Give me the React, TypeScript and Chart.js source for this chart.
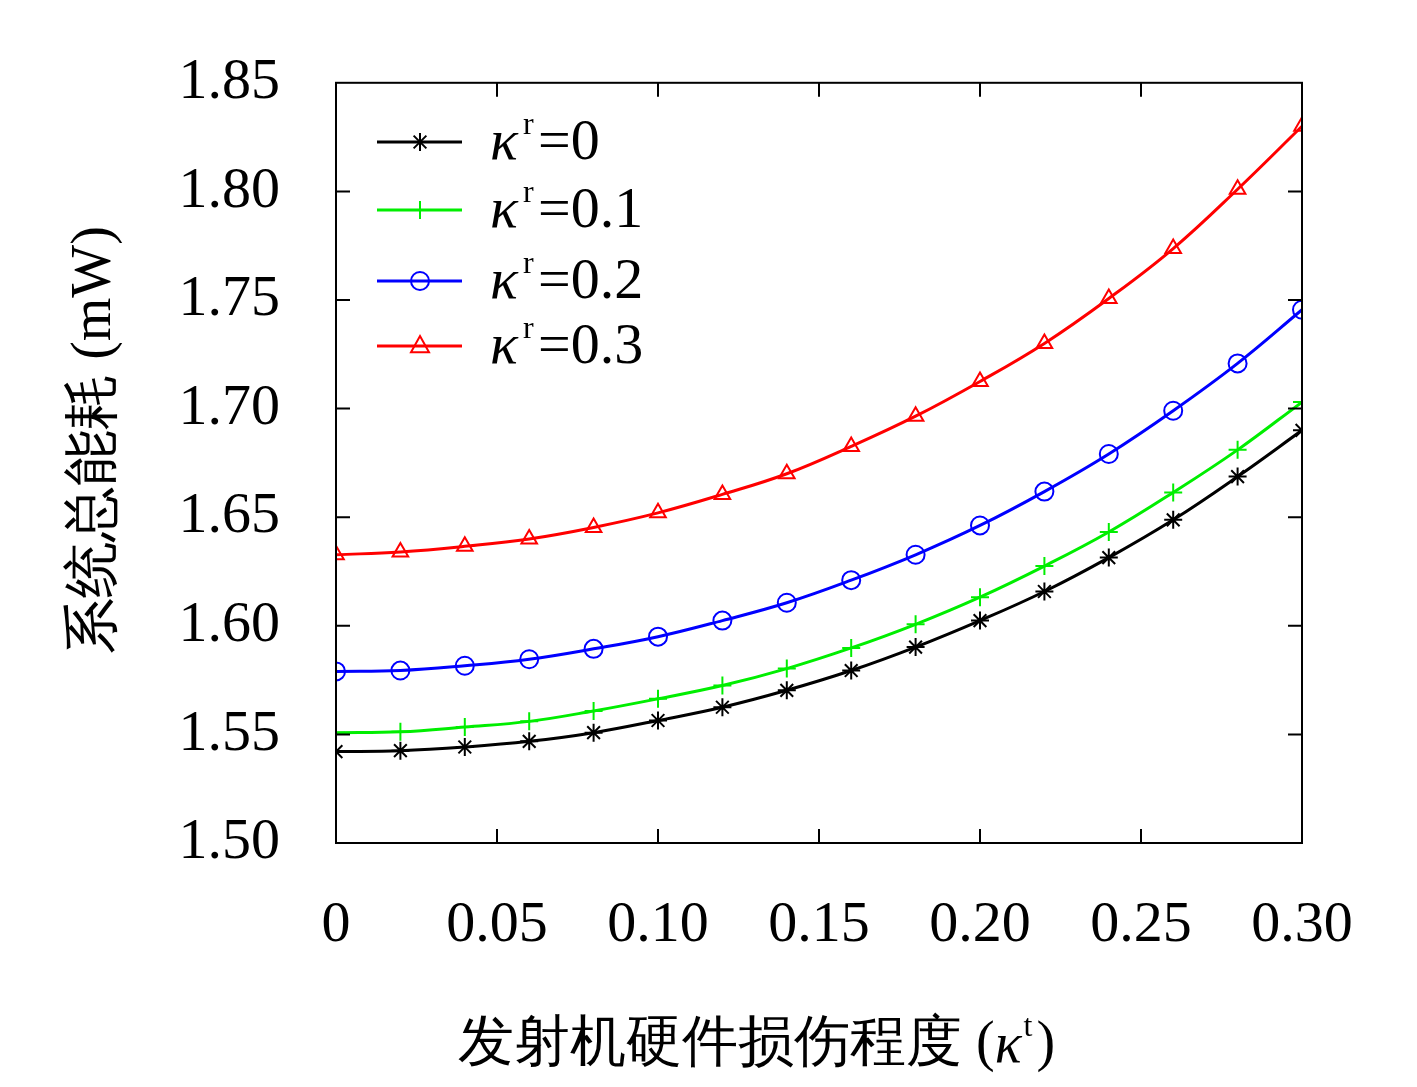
import React, { useEffect, useRef } from "react";
import { Chart, registerables } from "chart.js";
Chart.register(...registerables);

const kt = [0, 0.02, 0.04, 0.06, 0.08, 0.1, 0.12, 0.14, 0.16, 0.18, 0.2, 0.22, 0.24, 0.26, 0.28, 0.3];
const s0 = [1.5421, 1.5425, 1.5442, 1.5468, 1.5508, 1.5564, 1.5625, 1.5703, 1.5794, 1.5902, 1.6024, 1.6158, 1.6314, 1.6488, 1.6687, 1.69];
const s1 = [1.5508, 1.5512, 1.5534, 1.556, 1.5608, 1.5664, 1.5725, 1.5803, 1.5898, 1.6007, 1.6132, 1.6275, 1.6432, 1.6614, 1.681, 1.703];
const s2 = [1.579, 1.5794, 1.5816, 1.5846, 1.5894, 1.595, 1.6024, 1.6106, 1.621, 1.6327, 1.6462, 1.6618, 1.6791, 1.699, 1.7208, 1.7455];
const s3 = [1.6327, 1.634, 1.6366, 1.64, 1.6453, 1.652, 1.6605, 1.67, 1.6826, 1.6965, 1.7125, 1.73, 1.7507, 1.7737, 1.801, 1.83];
const labels = ["0", "0.1", "0.2", "0.3"];
const colors = ["#000000", "#00ee00", "#0000ff", "#ff0000"];
const styles = ["star", "cross", "circle", "triangle"];
const FONT = "'Liberation Serif', 'DejaVu Serif', serif";

function drawPt(ctx: any, st: string, x: number, y: number, r: number) {
  ctx.beginPath();
  if (st === "circle") { ctx.arc(x, y, r, 0, Math.PI * 2); }
  else if (st === "triangle") {
    ctx.moveTo(x, y - r * 1.1); ctx.lineTo(x + r, y + r * 0.7); ctx.lineTo(x - r, y + r * 0.7); ctx.closePath();
  } else if (st === "cross") {
    ctx.moveTo(x - r, y); ctx.lineTo(x + r, y); ctx.moveTo(x, y - r); ctx.lineTo(x, y + r);
  } else {
    for (let k = 0; k < 4; k++) {
      const an = (k * Math.PI) / 4;
      ctx.moveTo(x - r * Math.cos(an), y - r * Math.sin(an)); ctx.lineTo(x + r * Math.cos(an), y + r * Math.sin(an));
    }
  }
  ctx.stroke();
}

export default function App() {
  const ref = useRef<HTMLCanvasElement>(null);
  useEffect(() => {
    document.body.style.margin = "0";
    const series = [s0, s1, s2, s3];
    const deco = {
      id: "deco",
      afterDraw(c: any) {
        const ctx = c.ctx;
        const a = c.chartArea;
        const xs = c.scales.x, ys = c.scales.y;
        ctx.save();
        ctx.strokeStyle = "#000";
        ctx.lineWidth = 2;
        ctx.strokeRect(a.left, a.top, a.right - a.left, a.bottom - a.top);
        ctx.beginPath();
        for (let v = 0.05; v < 0.3; v += 0.05) {
          const x = xs.getPixelForValue(v);
          ctx.moveTo(x, a.bottom); ctx.lineTo(x, a.bottom - 14);
          ctx.moveTo(x, a.top); ctx.lineTo(x, a.top + 14);
        }
        for (let i = 1; i < 7; i++) {
          const y = ys.getPixelForValue(1.5 + i * 0.05);
          ctx.moveTo(a.left, y); ctx.lineTo(a.left + 14, y);
          ctx.moveTo(a.right, y); ctx.lineTo(a.right - 14, y);
        }
        ctx.stroke();
        const ly = [142, 210, 281, 346];
        ctx.textBaseline = "middle";
        ctx.textAlign = "left";
        for (let i = 0; i < 4; i++) {
          ctx.strokeStyle = colors[i];
          ctx.lineWidth = 3;
          ctx.beginPath(); ctx.moveTo(377, ly[i]); ctx.lineTo(462, ly[i]); ctx.stroke();
          ctx.lineWidth = 2;
          drawPt(ctx, styles[i], 420, ly[i], 9);
          ctx.fillStyle = "#000";
          ctx.font = `italic 58px ${FONT}`;
          ctx.fillText("κ", 490, ly[i] + 2);
          ctx.font = `32px ${FONT}`;
          ctx.fillText("r", 523, ly[i] - 16);
          ctx.font = `58px ${FONT}`;
          ctx.fillText("=" + labels[i], 538, ly[i] + 2);
        }
        ctx.fillStyle = "#000";
        ctx.textAlign = "left";
        ctx.font = `56px ${FONT}`;
        let x = 458;
        const t1 = "发射机硬件损伤程度 (";
        ctx.fillText(t1, x, 1045); x += ctx.measureText(t1).width;
        ctx.font = `italic 56px ${FONT}`;
        ctx.fillText("κ", x, 1047); x += ctx.measureText("κ").width + 2;
        ctx.font = `32px ${FONT}`;
        ctx.fillText("t", x, 1028); x += ctx.measureText("t").width + 4;
        ctx.font = `56px ${FONT}`;
        ctx.fillText(")", x, 1045);
        ctx.textAlign = "center";
        ctx.translate(95, 440);
        ctx.rotate(-Math.PI / 2);
        ctx.fillText("系统总能耗 (mW)", 0, 0);
        ctx.restore();
      },
    };
    const chart = new Chart(ref.current!, {
      type: "line",
      data: {
        datasets: series.map((s, i) => ({
          label: labels[i],
          data: s.map((v, j) => ({ x: kt[j], y: v })),
          borderColor: colors[i],
          backgroundColor: "rgba(255,255,255,0)",
          borderWidth: 3,
          pointStyle: styles[i] as any,
          pointRadius: 9,
          pointBorderWidth: 2,
          tension: 0.4,
        })),
      },
      options: {
        animation: false,
        responsive: false,
        layout: { padding: { top: -8, right: 115, left: 0, bottom: 0 } },
        plugins: { legend: { display: false }, tooltip: { enabled: false } },
        scales: {
          x: {
            type: "linear", min: 0, max: 0.3,
            grid: { display: false },
            border: { display: false },
            afterFit: (s: any) => { s.height = 244; },
            ticks: {
              stepSize: 0.05, color: "#000", padding: 40,
              font: { family: FONT, size: 58 },
              callback: (v: any) => (Math.abs(v) < 1e-9 ? "0" : Number(v).toFixed(2)),
            },
          },
          y: {
            min: 1.5, max: 1.85,
            grid: { display: false },
            border: { display: false },
            afterFit: (s: any) => { s.width = 336; },
            ticks: {
              stepSize: 0.05, color: "#000", padding: 48,
              font: { family: FONT, size: 58 },
              callback: (v: any) => Number(v).toFixed(2),
            },
          },
        },
      },
      plugins: [deco],
    });
    return () => chart.destroy();
  }, []);
  return <canvas ref={ref} width={1417} height={1087} style={{ display: "block", width: 1417, height: 1087 }} />;
}
